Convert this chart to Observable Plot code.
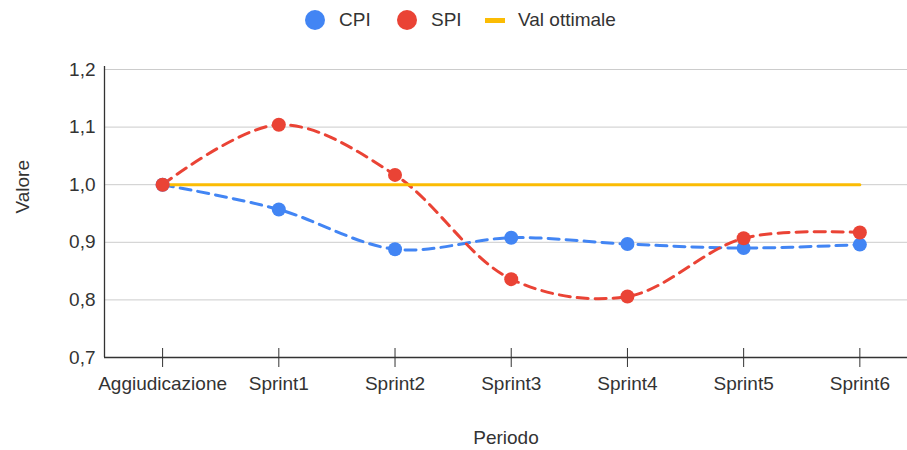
<!DOCTYPE html>
<html><head><meta charset="utf-8">
<script src="https://cdn.jsdelivr.net/npm/d3@7"></script>
<script src="https://cdn.jsdelivr.net/npm/@observablehq/plot@0.6"></script>
<style>
body{margin:0;background:#fff;font-family:"Liberation Sans",Arial,sans-serif;}
#wrap{position:relative;width:907px;}
#legend{position:relative;height:40px;font-size:19px;color:#333;}
.it{position:absolute;top:0;height:40px;display:flex;align-items:center;}
.dot{width:20px;height:20px;border-radius:50%;margin-right:14px;}
.bar{width:20px;height:5px;margin-right:13px;}
</style></head>
<body><div id="wrap"><div id="legend"></div><div id="chart"></div></div>
<script>
const categories = ["Aggiudicazione","Sprint1","Sprint2","Sprint3","Sprint4","Sprint5","Sprint6"];
const cpi = [1.0, 0.957, 0.888, 0.908, 0.897, 0.890, 0.896];
const spi = [1.0, 1.104, 1.017, 0.836, 0.806, 0.907, 0.917];
const ottimale = [1.0, 1.0, 1.0, 1.0, 1.0, 1.0, 1.0];
const yTicks = [0.7, 0.8, 0.9, 1.0, 1.1, 1.2];
const colors = {CPI: "#4285f4", SPI: "#ea4335", "Val ottimale": "#fbbc04"};

const idx = categories.map((_, i) => i);
const cpiData = idx.map(i => ({i, v: cpi[i]}));
const spiData = idx.map(i => ({i, v: spi[i]}));
const ottData = idx.map(i => ({i, v: ottimale[i]}));

// legend
const legend = document.getElementById("legend");
[["CPI", 305, "dot"], ["SPI", 397, "dot"], ["Val ottimale", 485, "bar"]].forEach(([name, left, kind]) => {
  const d = document.createElement("div"); d.className = "it"; d.style.left = left + "px";
  const s = document.createElement("span"); s.className = kind; s.style.background = colors[name];
  d.appendChild(s); d.appendChild(document.createTextNode(name)); legend.appendChild(d);
});

const font = {fontSize: 19, fill: "#333"};
const chart = Plot.plot({
  width: 907, height: 410,
  marginLeft: 104, marginRight: 0, marginTop: 29, marginBottom: 93,
  style: {fontFamily: "'Liberation Sans', Arial, sans-serif", fontSize: "19px", color: "#333", background: "#fff"},
  x: {domain: [-0.5, 6.41], axis: null},
  y: {domain: [0.7, 1.2], axis: null},
  marks: [
    Plot.ruleY(yTicks.slice(1), {stroke: "#cccccc", strokeWidth: 1}),
    Plot.axisY(yTicks, {tickSize: 0, tickPadding: 9, tickFormat: d => d.toFixed(1).replace(".", ","), ...font, label: null}),
    Plot.axisX(idx, {tickSize: 0, tickPadding: 19, tickFormat: i => categories[i], ...font, label: null}),
    Plot.text(["Periodo"], {frameAnchor: "bottom", dy: 86, ...font}),
    Plot.text(["Valore"], {frameAnchor: "left", dx: -82, rotate: -90, ...font}),
    Plot.ruleX(idx, {x: d => d, y1: 0.7, y2: 0.7, insetTop: -9, insetBottom: -10, stroke: "#333"}),
    Plot.ruleY([0.7], {stroke: "#333", strokeWidth: 1.3}),
    Plot.ruleX([-0.5], {y1: 0.7, y2: 1.205, stroke: "#333", strokeWidth: 1.3}),
    Plot.line(cpiData, {x: "i", y: "v", stroke: colors.CPI, strokeWidth: 3, strokeDasharray: "11,7", curve: "catmull-rom"}),
    Plot.line(spiData, {x: "i", y: "v", stroke: colors.SPI, strokeWidth: 3, strokeDasharray: "11,7", curve: "catmull-rom"}),
    Plot.line(ottData, {x: "i", y: "v", stroke: colors["Val ottimale"], strokeWidth: 3}),
    Plot.dot(cpiData, {x: "i", y: "v", r: 7, fill: colors.CPI}),
    Plot.dot(spiData, {x: "i", y: "v", r: 7, fill: colors.SPI})
  ]
});
document.getElementById("chart").appendChild(chart);
</script></body></html>
